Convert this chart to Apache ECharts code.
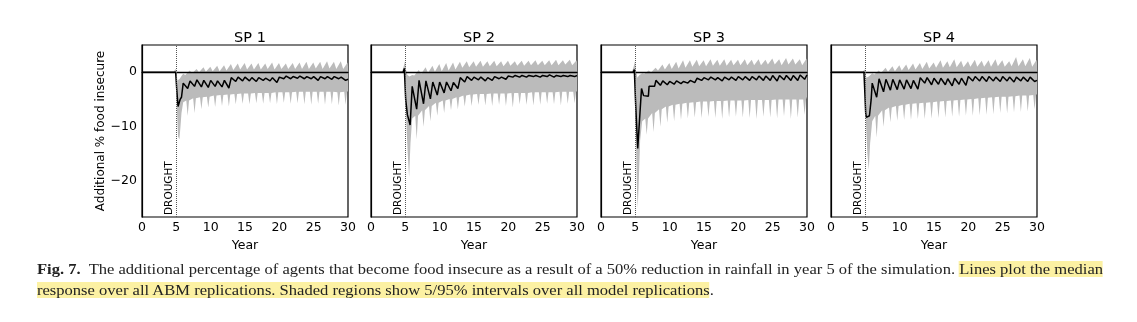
<!DOCTYPE html>
<html>
<head>
<meta charset="utf-8">
<script src="https://cdn.jsdelivr.net/npm/echarts@6/dist/echarts.min.js"></script>
<style>
html,body{margin:0;padding:0;background:#fff;}
#wrap{position:relative;width:1137px;height:322px;overflow:hidden;}
#chart{position:absolute;left:0;top:0;width:1137px;height:322px;}
#cap{position:absolute;left:37px;top:259px;font-family:"Liberation Serif","DejaVu Serif",serif;font-size:14.6px;line-height:21px;color:#222;white-space:nowrap;transform-origin:0 0;}
#cap b{font-weight:bold;}
.hl{background:#fcf1a3;}
</style>
</head>
<body>
<div id="wrap">
<div id="chart"></div>
<div id="cap"><span id="line1"><b>Fig. 7.</b>&nbsp; The additional percentage of agents that become food insecure as a result of a 50% reduction in rainfall in year 5 of the simulation. <span class="hl">Lines plot the median</span></span><br><span class="hl">response over all ABM replications. Shaded regions show 5/95% intervals over all model replications</span>.</div>
</div>
<script>
// ---------------- DATA ----------------
const panelTitles = ['SP 1', 'SP 2', 'SP 3', 'SP 4'];
const xTicks = [0, 5, 10, 15, 20, 25, 30];
const yTicks = [-20, -10, 0];
const droughtYear = 5;

// SP 1 -------------------------------------------------
const sp1MedHead = [[0,0],[4.9,0],[5.0,0.2],[5.05,-3],[5.25,-6.3],[5.55,-5.0],[5.75,-4.6],[6.0,-2.0]];
const sp1MedStart = 6;
const sp1MedTrough = [-3.0,-2.6,-2.7,-2.8,-2.6,-2.7,-2.9,-1.7,-1.6,-1.6,-1.7,-1.5,-1.6,-1.9,-1.2,-1.2,-1.1,-1.2,-1.2,-1.5,-1.2,-1.3,-1.2,-1.5];
const sp1MedPeak   = [-1.6,-1.4,-1.5,-1.5,-1.6,-1.5,-1.0,-0.9,-0.9,-1.0,-1.0,-1.1,-1.0,-0.9,-0.7,-0.8,-0.7,-0.8,-0.8,-0.8,-0.8,-0.8,-0.9,-1.3];
const sp1HiHead = [[0,0],[4.6,0],[4.85,0.6],[5.0,0.3],[5.15,-1.5],[5.5,-1.2],[5.8,-0.6],[6.0,-0.3]];
const sp1HiBase = [-0.5,-0.2,0,0.1,0.2,0.2,0.3,0.4,0.5,0.5,0.5,0.5,0.6,0.5,0.6,0.6,0.6,0.6,0.6,0.7,0.6,0.7,0.6,0.6];
const sp1HiPeak = [0.3,0.6,0.9,1.0,1.2,1.3,1.5,1.6,1.7,1.6,1.7,1.6,1.8,1.7,1.6,1.7,1.8,1.9,1.8,1.9,2.0,1.9,2.0,1.8];
const sp1HiEnd = 1.0;
const sp1LoHead = [[0,0],[4.8,0],[4.95,-0.2],[5.05,-6],[5.25,-11.8],[5.45,-12.3],[5.6,-10],[5.75,-7.5],[6.0,-5.5]];
const sp1LoBase = [-5.2,-4.8,-4.6,-4.5,-4.3,-4.2,-4.1,-4.0,-3.9,-3.9,-3.8,-3.8,-3.8,-3.7,-3.7,-3.7,-3.6,-3.6,-3.6,-3.6,-3.6,-3.6,-3.7,-3.6];
const sp1LoSpike = [-8.0,-7.5,-6.8,-6.5,-6.4,-6.2,-6.3,-5.9,-5.8,-5.9,-5.7,-5.8,-5.7,-5.9,-5.6,-5.8,-5.7,-5.9,-6.0,-5.8,-6.0,-5.9,-6.1,-6.0];
const sp1LoEnd = -3.5;

// SP 2 -------------------------------------------------
const sp2MedHead = [[0,0],[4.7,0],[4.85,0.7],[4.95,0.4],[5.05,-5],[5.3,-7.8],[5.7,-9.7],[6.0,-2.6]];
const sp2MedStart = 6;
const sp2MedTrough = [-6.8,-5.8,-4.9,-4.2,-3.8,-3.4,-3.0,-1.8,-1.5,-1.4,-1.6,-1.5,-1.2,-1.3,-0.9,-0.9,-0.9,-0.8,-0.9,-0.8,-0.9,-0.8,-0.8,-0.8];
const sp2MedPeak   = [-1.5,-1.6,-1.8,-1.8,-1.8,-1.9,-1.0,-0.8,-0.9,-0.9,-1.0,-0.8,-0.9,-0.7,-0.6,-0.6,-0.6,-0.6,-0.6,-0.5,-0.6,-0.6,-0.6,-0.6];
const sp2HiHead = [[0,0],[4.5,0],[4.75,1.0],[4.95,2.0],[5.1,0.5],[5.3,-0.5],[5.6,-0.8],[6.0,-0.5]];
const sp2HiBase = [-0.6,-0.3,-0.1,0.1,0.2,0.3,0.5,0.8,0.9,1.0,1.0,1.1,1.1,1.1,1.2,1.2,1.2,1.3,1.3,1.3,1.3,1.3,1.4,1.3];
const sp2HiPeak = [0.4,0.9,1.2,1.5,1.7,1.8,1.9,2.0,2.0,2.1,2.0,2.1,2.0,2.1,2.0,2.1,2.1,2.2,2.1,2.2,2.3,2.2,2.3,2.2];
const sp2HiEnd = 1.8;
const sp2LoHead = [[0,0],[4.8,0],[4.95,-0.5],[5.1,-8],[5.35,-15],[5.55,-19.3],[5.75,-13],[6.0,-8.5]];
const sp2LoBase = [-8.0,-7.0,-6.2,-5.6,-5.2,-4.9,-4.6,-4.3,-4.1,-4.0,-4.0,-3.9,-3.9,-3.9,-3.8,-3.8,-3.8,-3.7,-3.7,-3.7,-3.7,-3.6,-3.6,-3.6];
const sp2LoSpike = [-12.3,-10.0,-9.0,-8.0,-7.5,-7.0,-6.8,-6.3,-6.2,-6.0,-6.1,-6.2,-6.0,-6.2,-6.5,-5.9,-6.0,-6.1,-6.0,-5.8,-5.9,-6.1,-5.8,-5.7];
const sp2LoEnd = -3.5;

// SP 3 -------------------------------------------------
const sp3MedHead = [[0,0],[4.7,0],[4.85,0.5],[4.95,0.3],[5.05,-6],[5.35,-14.0],[5.9,-3.0],[6.2,-4.3],[6.9,-4.4],[7.0,-2.6],[7.8,-2.6],[8.0,-1.5]];
const sp3MedStart = 8;
const sp3MedTrough = [-2.4,-2.3,-2.2,-2.1,-2.0,-1.9,-1.5,-1.4,-1.4,-1.6,-1.4,-1.5,-1.4,-1.5,-1.4,-1.5,-1.5,-1.6,-1.4,-1.5,-1.5,-1.3];
const sp3MedPeak   = [-1.6,-1.7,-1.6,-1.7,-1.5,-1.1,-1.0,-0.9,-1.0,-0.9,-0.9,-0.8,-0.8,-0.8,-0.7,-0.7,-0.6,-0.6,-0.6,-0.6,-0.5,-0.5];
const sp3HiHead = [[0,0],[4.5,0],[4.75,1.0],[4.95,2.0],[5.1,0.3],[5.3,-1.0],[5.6,-0.5],[6.0,-0.2]];
const sp3HiBase = [-0.3,0.0,0.3,0.5,0.6,0.7,0.8,1.0,1.1,1.1,1.2,1.2,1.2,1.3,1.3,1.3,1.3,1.3,1.4,1.4,1.3,1.4,1.4,1.3];
const sp3HiPeak = [0.3,0.8,1.4,1.7,1.9,2.2,2.2,2.3,2.2,2.4,2.3,2.4,2.3,2.3,2.4,2.3,2.4,2.3,2.5,2.4,2.6,2.5,2.4,2.5];
const sp3HiEnd = 1.8;
const sp3LoHead = [[0,0],[4.8,0],[4.95,-0.5],[5.05,-10],[5.25,-22],[5.35,-25.0],[5.5,-20],[5.7,-12.5],[6.0,-9.0]];
const sp3LoBase = [-8.5,-7.5,-6.8,-6.3,-6.0,-5.8,-5.6,-5.5,-5.4,-5.4,-5.3,-5.3,-5.2,-5.2,-5.2,-5.1,-5.1,-5.1,-5.1,-5.0,-5.0,-5.0,-5.0,-5.0];
const sp3LoSpike = [-11.5,-11.0,-10.0,-9.3,-9.0,-8.8,-8.5,-8.3,-8.4,-8.2,-8.4,-8.6,-8.3,-8.2,-8.3,-8.4,-8.6,-8.2,-8.3,-8.5,-8.1,-8.6,-8.3,-7.8];
const sp3LoEnd = -4.5;

// SP 4 -------------------------------------------------
const sp4MedHead = [[0,0],[4.8,0],[4.95,0.2],[5.05,-7.5],[5.15,-8.3],[5.6,-8.0],[5.85,-5.0],[6.0,-2.0]];
const sp4MedStart = 6;
const sp4MedTrough = [-4.6,-3.6,-3.3,-3.2,-3.1,-3.0,-3.1,-2.0,-2.3,-2.2,-2.3,-2.5,-2.2,-2.4,-1.6,-1.6,-1.7,-1.6,-1.7,-1.6,-1.8,-1.6,-1.7,-1.7];
const sp4MedPeak   = [-1.2,-1.3,-1.3,-1.4,-1.4,-1.5,-1.0,-1.0,-1.1,-1.1,-1.2,-1.1,-1.1,-0.8,-0.8,-0.8,-0.8,-0.9,-0.8,-0.9,-0.9,-0.9,-0.9,-1.5];
const sp4HiHead = [[0,0],[4.6,0],[4.85,0.5],[5.0,0.3],[5.15,-1.0],[5.5,-0.8],[6.0,-0.2]];
const sp4HiBase = [-0.4,-0.1,0.1,0.2,0.3,0.4,0.5,0.6,0.7,0.8,0.8,0.9,0.9,0.9,1.0,1.0,1.0,1.0,1.1,1.0,1.1,1.1,1.1,1.0];
const sp4HiPeak = [0.3,0.8,1.1,1.3,1.4,1.6,1.7,1.9,1.8,2.2,2.0,2.4,2.1,2.0,2.3,2.1,2.2,2.4,2.2,2.0,2.8,2.4,2.6,2.3];
const sp4HiEnd = 1.7;
const sp4LoHead = [[0,0],[4.8,0],[4.95,-0.3],[5.05,-8],[5.3,-15],[5.5,-17.9],[5.7,-13],[6.0,-9.0]];
const sp4LoBase = [-8.0,-7.0,-6.5,-6.2,-6.0,-5.8,-5.7,-5.6,-5.5,-5.4,-5.3,-5.2,-5.1,-5.0,-4.9,-4.8,-4.7,-4.6,-4.5,-4.5,-4.4,-4.3,-4.3,-4.2];
const sp4LoSpike = [-12.0,-10.0,-9.2,-8.9,-8.8,-8.8,-8.6,-8.6,-8.5,-8.4,-8.3,-8.2,-8.2,-8.0,-8.0,-7.9,-7.8,-7.7,-7.5,-7.6,-7.4,-7.3,-7.2,-6.8];
const sp4LoEnd = -4.0;

// ---------------- BUILD ----------------
const BAND_START = 6;
function buildMedian(head, start, tr, pk) {
  const pts = head.slice();
  for (let i = 0; i < tr.length; i++) {
    const k = start + i;
    pts.push([k + 0.65, tr[i]]);
    pts.push([k + 1.0, pk[i]]);
  }
  return pts;
}
function buildBand(hiHead, hiB, hiP, hiEnd, loHead, loB, loS, loEnd) {
  const up = hiHead.slice();
  for (let i = 0; i < hiB.length; i++) {
    const k = BAND_START + i;
    up.push([k + 0.3, hiB[i]]);
    up.push([k + 0.95, hiP[i]]);
  }
  up.push([30, hiEnd]);
  const lo = loHead.slice();
  for (let i = 0; i < loB.length; i++) {
    const k = BAND_START + i;
    lo.push([k + 0.45, loB[i]]);
    lo.push([k + 0.65, loS[i]]);
    lo.push([k + 0.85, loB[i]]);
  }
  lo.push([30, loEnd]);
  return up.concat(lo.reverse());
}

const medians = [
  buildMedian(sp1MedHead, sp1MedStart, sp1MedTrough, sp1MedPeak),
  buildMedian(sp2MedHead, sp2MedStart, sp2MedTrough, sp2MedPeak),
  buildMedian(sp3MedHead, sp3MedStart, sp3MedTrough, sp3MedPeak),
  buildMedian(sp4MedHead, sp4MedStart, sp4MedTrough, sp4MedPeak)
];
const bands = [
  buildBand(sp1HiHead, sp1HiBase, sp1HiPeak, sp1HiEnd, sp1LoHead, sp1LoBase, sp1LoSpike, sp1LoEnd),
  buildBand(sp2HiHead, sp2HiBase, sp2HiPeak, sp2HiEnd, sp2LoHead, sp2LoBase, sp2LoSpike, sp2LoEnd),
  buildBand(sp3HiHead, sp3HiBase, sp3HiPeak, sp3HiEnd, sp3LoHead, sp3LoBase, sp3LoSpike, sp3LoEnd),
  buildBand(sp4HiHead, sp4HiBase, sp4HiPeak, sp4HiEnd, sp4LoHead, sp4LoBase, sp4LoSpike, sp4LoEnd)
];

// ---------------- CHART ----------------
const YMIN = -26.6, YMAX = 5;
const FONT = 'DejaVu Sans';
const gridLefts = [142, 371, 601, 831];
const gridW = 206, gridTop = 45, gridH = 172;

const grids = [], xAxes = [], yAxes = [], series = [], titles = [];
gridLefts.forEach((l, i) => {
  grids.push({left: l, top: gridTop, width: gridW, height: gridH, show: true, borderColor: '#000', borderWidth: 1.2, containLabel: false});
  titles.push({text: panelTitles[i], left: l + gridW / 2, top: 26, textAlign: 'center',
    textStyle: {fontFamily: FONT, fontSize: 14.5, fontWeight: 'normal', color: '#000'}});
  xAxes.push({type: 'value', gridIndex: i, min: 0, max: 30, interval: 5,
    name: 'Year', nameLocation: 'middle', nameGap: 17,
    nameTextStyle: {fontFamily: FONT, fontSize: 12.5, color: '#000'},
    axisLine: {show: true, lineStyle: {color: '#000', width: 1.2}},
    axisTick: {show: false},
    axisLabel: {fontFamily: FONT, fontSize: 12.5, color: '#000', margin: 4},
    splitLine: {show: false}});
  yAxes.push({type: 'value', gridIndex: i, min: YMIN, max: YMAX,
    name: i === 0 ? 'Additional % food insecure' : '', nameLocation: 'middle', nameGap: 30,
    nameTextStyle: {fontFamily: FONT, fontSize: 12, color: '#000'},
    axisLine: {show: true, lineStyle: {color: '#000', width: 1.2}},
    axisTick: {show: false},
    axisLabel: {show: i === 0, customValues: yTicks, fontFamily: FONT, fontSize: 12.5, color: '#000', margin: 5,
      formatter: v => String(v).replace('-', '\u2212')},
    splitLine: {show: false}});
  const poly = bands[i];
  series.push({type: 'custom', xAxisIndex: i, yAxisIndex: i, z: 1, silent: true, clip: true,
    data: poly, encode: {x: 0, y: 1},
    renderItem: function (params, api) {
      if (params.dataIndex !== 0) return null;
      const pts = poly.map(p => api.coord(p));
      return {type: 'polygon', shape: {points: pts}, style: {fill: '#bbbbbb', stroke: null}};
    }});
  series.push({type: 'line', xAxisIndex: i, yAxisIndex: i, z: 3, data: medians[i],
    showSymbol: false, symbol: 'none', silent: true,
    lineStyle: {color: '#000', width: 1.5},
    markLine: {silent: true, symbol: ['none', 'none'], animation: false,
      data: [
        {yAxis: 0, lineStyle: {type: 'solid', color: '#000', width: 1.3}, label: {show: false}},
        [{coord: [droughtYear, YMIN], lineStyle: {type: 'dotted', color: '#555', width: 1},
          label: {show: true, formatter: 'DROUGHT', position: 'insideStartTop', distance: 2,
            fontFamily: FONT, fontSize: 10.5, color: '#000'}},
         {coord: [droughtYear, YMAX]}]
      ]}});
});

const chart = echarts.init(document.getElementById('chart'), null, {renderer: 'canvas'});
chart.setOption({animation: false, title: titles, grid: grids, xAxis: xAxes, yAxis: yAxes, series: series});

// stretch caption horizontally to the reference's line width
(function () {
  const cap = document.getElementById('cap');
  const l1 = document.getElementById('line1');
  const w = l1.getBoundingClientRect().width;
  const target = 1066;
  if (w > 0) cap.style.transform = 'scaleX(' + (target / w) + ')';
})();
</script>
</body>
</html>
